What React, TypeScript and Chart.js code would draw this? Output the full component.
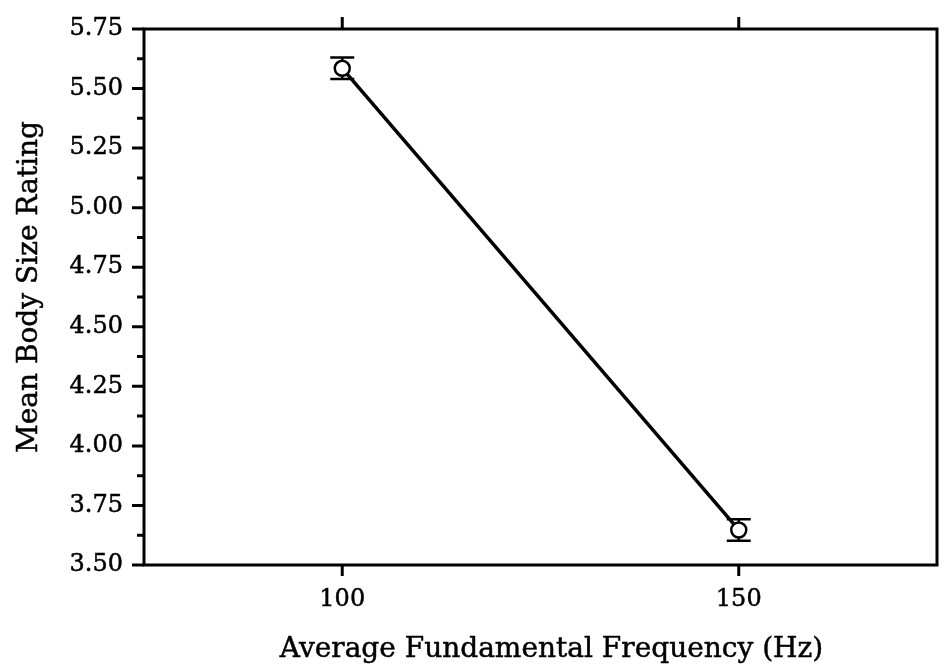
import React, { useEffect, useRef } from "react";
import { Chart, registerables } from "chart.js";

Chart.register(...registerables);

const frequencies = [100, 150];
const meanRatings = [5.585, 3.647];
const errorMargins = [0.045, 0.045];
const xTickValues = [100, 150];
const xTitle = "Average Fundamental Frequency (Hz)";
const yTitle = "Mean Body Size Rating";

const FONT = "'DejaVu Serif', serif";

const framePlugin = {
  id: "frameTicksErrors",
  beforeDatasetsDraw(chart: any) {
    const { ctx, chartArea, scales } = chart;
    const xs = scales.x;
    const ys = scales.y;
    ctx.save();
    ctx.strokeStyle = "#000";
    ctx.lineWidth = 3;
    ctx.lineCap = "butt";
    ctx.strokeRect(chartArea.left, chartArea.top, chartArea.right - chartArea.left, chartArea.bottom - chartArea.top);
    const yTicks = ys.ticks.map((t: any) => t.value);
    ctx.beginPath();
    yTicks.forEach((v: number, i: number) => {
      const py = ys.getPixelForValue(v);
      ctx.moveTo(chartArea.left, py);
      ctx.lineTo(chartArea.left - 12, py);
      if (i < yTicks.length - 1) {
        const mid = (v + yTicks[i + 1]) / 2;
        const pm = ys.getPixelForValue(mid);
        ctx.moveTo(chartArea.left, pm);
        ctx.lineTo(chartArea.left - 7, pm);
      }
    });
    xTickValues.forEach((v) => {
      const px = xs.getPixelForValue(v);
      ctx.moveTo(px, chartArea.bottom);
      ctx.lineTo(px, chartArea.bottom + 11);
      ctx.moveTo(px, chartArea.top);
      ctx.lineTo(px, chartArea.top - 12);
    });
    ctx.stroke();
    ctx.lineWidth = 2.5;
    ctx.beginPath();
    frequencies.forEach((f, i) => {
      const px = xs.getPixelForValue(f);
      const pTop = ys.getPixelForValue(meanRatings[i] + errorMargins[i]);
      const pBot = ys.getPixelForValue(meanRatings[i] - errorMargins[i]);
      ctx.moveTo(px, pTop);
      ctx.lineTo(px, pBot);
      ctx.moveTo(px - 12, pTop);
      ctx.lineTo(px + 12, pTop);
      ctx.moveTo(px - 12, pBot);
      ctx.lineTo(px + 12, pBot);
    });
    ctx.stroke();
    ctx.restore();
  },
  afterDraw(chart: any) {
    const { ctx, chartArea } = chart;
    ctx.save();
    ctx.fillStyle = "#000";
    ctx.strokeStyle = "#000";
    ctx.lineWidth = 0.5;
    ctx.font = `28px ${FONT}`;
    ctx.textAlign = "center";
    ctx.textBaseline = "alphabetic";
    const cx = (chartArea.left + chartArea.right) / 2 + 11;
    ctx.fillText(xTitle, cx, chartArea.bottom + 92);
    ctx.strokeText(xTitle, cx, chartArea.bottom + 92);
    const cy = (chartArea.top + chartArea.bottom) / 2 - 10;
    ctx.translate(chartArea.left - 107, cy);
    ctx.rotate(-Math.PI / 2);
    ctx.fillText(yTitle, 0, 0);
    ctx.strokeText(yTitle, 0, 0);
    ctx.restore();
  },
};

export default function App() {
  const canvasRef = useRef<HTMLCanvasElement | null>(null);

  useEffect(() => {
    document.body.style.margin = "0";
    const canvas = canvasRef.current;
    if (!canvas) return;
    const chart = new Chart(canvas, {
      type: "line",
      data: {
        datasets: [
          {
            data: frequencies.map((x, i) => ({ x, y: meanRatings[i] })),
            borderColor: "#000",
            borderWidth: 3.5,
            pointRadius: 7.5,
            pointBorderWidth: 2.5,
            pointBackgroundColor: "#fff",
            pointBorderColor: "#000",
            tension: 0,
          },
        ],
      },
      options: {
        animation: false,
        responsive: false,
        devicePixelRatio: 1,
        layout: { padding: { top: 29, right: 1, left: 0, bottom: 0 } },
        plugins: { legend: { display: false }, tooltip: { enabled: false } },
        scales: {
          x: {
            type: "linear",
            min: 75,
            max: 175,
            afterBuildTicks: (s: any) => {
              s.ticks = xTickValues.map((v) => ({ value: v }));
            },
            ticks: {
              font: { family: FONT, size: 24 },
              color: "#000",
              textStrokeColor: "#000",
              textStrokeWidth: 0.5,
              padding: 20,
              maxRotation: 0,
              autoSkip: false,
            },
            grid: { display: false, drawTicks: false },
            border: { display: false },
            title: { display: false },
            afterFit: (s: any) => {
              s.height = 102;
              s.paddingLeft = 0;
              s.paddingRight = 0;
            },
          },
          y: {
            type: "linear",
            min: 3.5,
            max: 5.75,
            ticks: {
              stepSize: 0.25,
              callback: (v: any) => Number(v).toFixed(2),
              font: { family: FONT, size: 24 },
              color: "#000",
              textStrokeColor: "#000",
              textStrokeWidth: 0.5,
              padding: 21,
            },
            grid: { display: false, drawTicks: false },
            border: { display: false },
            title: { display: false },
            afterFit: (s: any) => {
              s.width = 144;
              s.paddingTop = 0;
              s.paddingBottom = 0;
            },
          },
        },
      },
      plugins: [framePlugin],
    } as any);
    return () => chart.destroy();
  }, []);

  return (
    <div style={{ position: "fixed", left: 0, top: 0, width: 947, height: 667, background: "#fff" }}>
      <canvas ref={canvasRef} width={947} height={667} style={{ width: 947, height: 667 }} />
    </div>
  );
}
